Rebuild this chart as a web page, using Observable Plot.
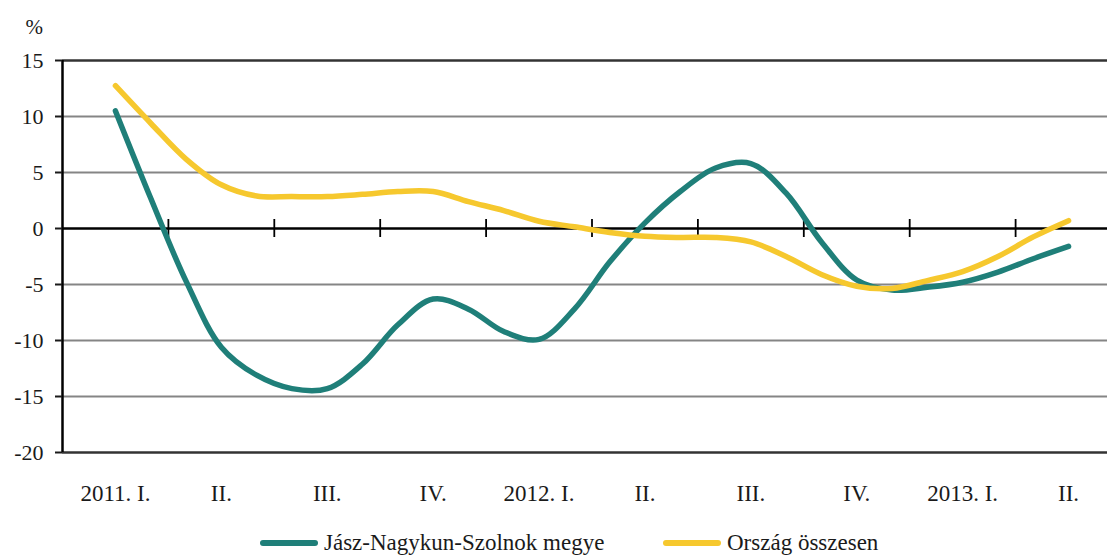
<!DOCTYPE html>
<html>
<head>
<meta charset="utf-8">
<script src="https://cdn.jsdelivr.net/npm/d3@7"></script>
<script src="https://cdn.jsdelivr.net/npm/@observablehq/plot@0.6"></script>
<style>
  body { margin: 0; background: #fff; overflow: hidden; font-family: "Liberation Serif", serif; }
  #wrap { position: relative; width: 1107px; height: 558px; }
  .item { position: absolute; top: 530px; display: flex; align-items: center; font-family: "Liberation Serif", serif; font-size: 23px; color: #1a1a1a; white-space: nowrap; }
  .sw { width: 58px; height: 6px; border-radius: 3px; margin-right: 6px; }
</style>
</head>
<body>
<div id="wrap">
  <div id="chart"></div>
  <div class="item" style="left:260px"><span class="sw" style="background:#1f7f79"></span><span id="l1"></span></div>
  <div class="item" style="left:663px"><span class="sw" style="background:#f6c82e"></span><span id="l2"></span></div>
</div>
<script>
// Quarter labels (x axis)
const quarterLabels = ["2011. I.", "II.", "III.", "IV.", "2012. I.", "II.", "III.", "IV.", "2013. I.", "II."];
// Series names
const seriesNames = ["Jász-Nagykun-Szolnok megye", "Ország összesen"];
// Monthly values (%), from mid 2011 Q1 to mid 2013 Q2
const jnsz = [10.5, 2.7, -4.7, -10.6, -13.1, -14.3, -14.3, -12.1, -8.6, -6.3, -7.2, -9.2, -9.9, -7.2, -3.0, 0.5, 3.3, 5.4, 5.8, 3.15, -1.2, -4.6, -5.5, -5.25, -4.8, -3.9, -2.7, -1.6];
const orszag = [12.75, 9.4, 6.2, 3.9, 2.9, 2.85, 2.85, 3.05, 3.3, 3.3, 2.4, 1.6, 0.65, 0.15, -0.35, -0.7, -0.8, -0.8, -1.2, -2.5, -4.1, -5.15, -5.35, -4.65, -3.85, -2.5, -0.75, 0.7];
// Y ticks
const yTicks = [-20, -15, -10, -5, 0, 5, 10, 15];
const monthsPerQuarter = 3;

document.getElementById("l1").textContent = seriesNames[0];
document.getElementById("l2").textContent = seriesNames[1];

const rows = [
  ...jnsz.map((v, i) => ({t: i / monthsPerQuarter, v, s: seriesNames[0]})),
  ...orszag.map((v, i) => ({t: i / monthsPerQuarter, v, s: seriesNames[1]}))
];
const quarterIdx = d3.range(quarterLabels.length);
const boundaries = d3.range(1, quarterLabels.length).map(k => k - 0.5);
const serif = "Liberation Serif, serif";

const chart = Plot.plot({
  width: 1107,
  height: 515,
  marginTop: 60,
  marginBottom: 63,
  marginLeft: 62,
  marginRight: -14,
  x: {domain: [-0.5, quarterLabels.length - 0.5]},
  y: {domain: [-20, 15]},
  color: {domain: seriesNames, range: ["#1f7f79", "#f6c82e"]},
  style: {fontFamily: serif, fontSize: "23px", color: "#1a1a1a", background: "#fff"},
  marks: [
    Plot.ruleY(yTicks.filter(t => t > -20 && t < 15 && t !== 0), {stroke: "#858585", strokeWidth: 2}),
    Plot.ruleY([15, -20], {stroke: "#333", strokeWidth: 2.5}),
    Plot.ruleY([0], {stroke: "#000", strokeWidth: 2.5}),
    Plot.ruleX(boundaries, {x: d => d, y1: 0, y2: 0, insetTop: -9, insetBottom: -9, stroke: "#000", strokeWidth: 1.8}),
    Plot.ruleX([-0.5], {y1: -20, y2: 15, stroke: "#000", strokeWidth: 2.5}),
    Plot.axisY({ticks: yTicks, tickSize: 7, tickPadding: 12, tickFormat: d => String(d), label: null, strokeWidth: 2, fontFamily: serif, fontSize: 22}),
    Plot.axisX({ticks: quarterIdx, tickSize: 0, tickPadding: 32, tickFormat: i => quarterLabels[i], label: null, fontFamily: serif, fontSize: 23}),
    Plot.line(rows.filter(d => d.s === seriesNames[0]), {x: "t", y: "v", stroke: "s", strokeWidth: 5.5, curve: "catmull-rom", strokeLinecap: "round"}),
    Plot.line(rows.filter(d => d.s === seriesNames[1]), {x: "t", y: "v", stroke: "s", strokeWidth: 5.5, curve: "catmull-rom", strokeLinecap: "round"}),
    Plot.text(["%"], {frameAnchor: "top-left", dx: -37, dy: -27, lineAnchor: "bottom", fontSize: 21, fontFamily: serif})
  ]
});
document.getElementById("chart").appendChild(chart);
</script>
</body>
</html>
